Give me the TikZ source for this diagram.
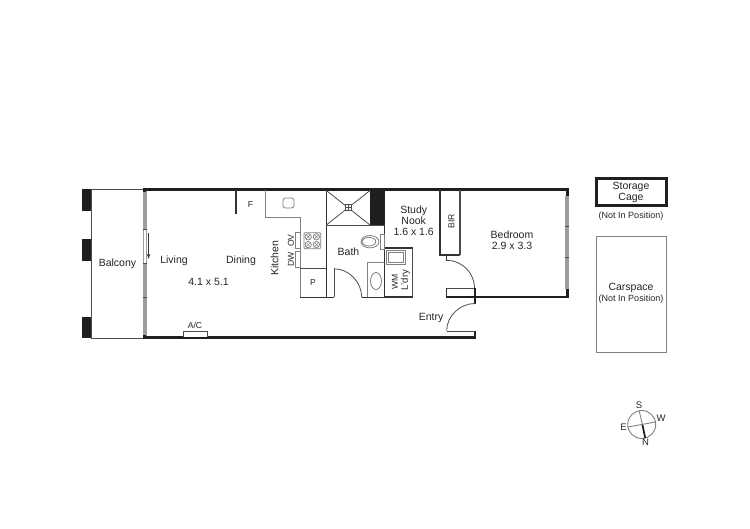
\documentclass[tikz,border=0pt]{standalone}
\usepackage{fontspec}
\setmainfont{Liberation Sans}
\tikzset{
  lbl/.style={inner sep=0pt,font=\fontsize{10.5}{11}\selectfont,text=black!85},
  lblsmall/.style={inner sep=0pt,font=\fontsize{8.6}{9}\selectfont,text=black!85},
  lblnote/.style={inner sep=0pt,font=\fontsize{9}{10}\selectfont,text=black!85},
  wall/.style={line width=3pt,draw=black!88},
  midwall/.style={line width=1.5pt,draw=black!80},
  thin/.style={line width=0.8pt,draw=black!70},
  fixture/.style={line width=0.8pt,draw=black!50},
  solidblock/.style={fill=black!88,draw=none},
  glass/.style={fill=black!38,draw=none}
}
\begin{document}
\begin{tikzpicture}[x=1pt,y=-1pt]
\useasboundingbox[fill=white] (0,0) rectangle (750,529);
% balcony
\fill[solidblock] (81.7,189.5) rectangle (91,211);
\fill[solidblock] (81.7,239) rectangle (91,261);
\fill[solidblock] (81.7,316.7) rectangle (91,338);
\draw[thin] (144,189.7) -- (91,189.7) -- (91,338) -- (144,338);
% living window
\fill[glass] (143.2,191) rectangle (147,336);
\fill[white] (143.9,229) rectangle (146.3,263);
\draw[thin] (143.2,229) -- (147,229) (143.2,263) -- (147,263) (143.2,297) -- (147,297);
\draw[line width=0.6pt,draw=black!80,-{latex}] (148.6,233) -- (148.6,259);
% outer walls
\draw[wall] (143,189.5) -- (568.5,189.5);
\draw[wall] (143,338) -- (476.3,338);
\draw[wall] (144.3,188.2) -- (144.3,192);
\draw[wall] (144.3,335) -- (144.3,339.3);
\draw[wall,line width=2.6pt] (475,331) -- (475,339);
% right window
\fill[glass] (565,196) rectangle (568.5,289);
\fill[solidblock] (565.5,189) rectangle (568.5,196);
\fill[solidblock] (565.5,289) rectangle (568.5,298);
\draw[thin] (565,226) -- (568.5,226) (565,257) -- (568.5,257);
% AC
\draw[thin,fill=white] (183,337) -- (183,331) -- (207,331) -- (207,337);
% fridge wall
\draw[midwall] (236,190) -- (236,214);
% kitchen
\draw[fixture,line width=1pt] (265.5,190) -- (265.5,217.5) -- (300,217.5) -- (300,297);
\draw[fixture,rounded corners=2.5pt] (283,198) rectangle (294,208);
\draw[fixture] (295,232.7) rectangle (300,248.2);
\draw[fixture] (295,251.7) rectangle (300,267.3);
\draw[fixture,rounded corners=1pt] (304,232.7) rectangle (320.7,248.7);
\foreach \cx/\cy in {308.2/236.8,316.4/236.8,308.2/244.6,316.4/244.6}{
  \draw[fixture,line width=0.7pt] (\cx,\cy) circle (3.2);
  \draw[fixture,line width=0.5pt] (\cx-2.2,\cy-2.2) -- (\cx+2.2,\cy+2.2) (\cx-2.2,\cy+2.2) -- (\cx+2.2,\cy-2.2);
}
% pantry
\draw[thin,line width=1pt] (300,268.3) -- (326,268.3);
\draw[midwall] (300,297.3) -- (334,297.3);
% bath walls
\draw[midwall] (326.3,190) -- (326.3,297.3);
% shower
\fill[solidblock] (370,190) rectangle (385,225);
\draw[thin] (326.3,225) -- (385,225);
\draw[thin] (326.3,190.5) -- (370,225) (370,190.5) -- (326.3,225);
\draw[thin,fill=white] (345,204) rectangle (351,210);
\draw[thin,line width=0.5pt] (345,207) -- (351,207) (348,204) -- (348,210);
% study side wall
\draw[midwall] (384.5,225) -- (384.5,297.3);
% toilet
\draw[fixture] (380,234) rectangle (384,249);
\draw[fixture] (370,241.7) ellipse (9 and 6.2);
\draw[fixture] (369,241.7) ellipse (6.8 and 4.3);
% vanity
\draw[fixture] (384,262.7) -- (367,262.7) -- (367,297);
\draw[fixture] (376,281) ellipse (5.5 and 8.5);
% bath door
\draw[thin,line width=1pt] (334,268) -- (334,297.3);
\draw[thin] (334,268.8) .. controls (349,268.8) and (361.7,282) .. (361.7,297.3);
\draw[midwall] (361.7,297.3) -- (385,297.3);
% laundry
\draw[midwall] (384.5,248) -- (412.7,248);
\draw[thin,line width=1pt] (412.7,248) -- (412.7,296.8);
\draw[midwall] (385,296.8) -- (413.2,296.8);
\draw[fixture] (386.7,250.5) rectangle (405,264);
\draw[fixture,line width=0.5pt] (388.5,252.3) rectangle (403.2,262.2);
% BIR
\draw[midwall,line width=1.8pt] (460,255.3) -- (440,255.3) -- (440,190);
\draw[thin,line width=1.1pt] (460,190) -- (460,255.3);
% bedroom door
\draw[midwall] (446.7,255) -- (446.7,261);
\draw[thin] (446.7,260.3) .. controls (462,260.3) and (474.6,273) .. (474.6,288.3);
\draw[thin] (446.7,288.3) -- (475,288.3);
\draw[midwall] (446.7,287.6) -- (446.7,297.2);
% entry
\draw[wall,line width=2.6pt] (475,288) -- (475,303.8);
\draw[wall,line width=2pt] (446,296.7) -- (568.5,296.7);
\draw[thin] (475,303.5) .. controls (460,303.5) and (446.7,316) .. (446.7,330.7);
\draw[thin] (446.7,331) -- (475,331);
% storage
\draw[line width=3pt,draw=black!88] (596,179) rectangle (666,205.5);
\draw[line width=0.8pt,draw=black!50] (596.3,236) rectangle (666,352);
% compass
\draw[fixture,line width=0.9pt] (641.7,424.5) circle (14);
\draw[fixture,line width=0.9pt] (628,427) -- (655.4,422);
\draw[fixture,line width=0.9pt] (639.2,411) -- (642.5,425);
\draw[line width=1.7pt,draw=black!90] (642.5,425) -- (645.2,438);
% labels
\node[lbl] (balcony) at (117.5,263.5) {Balcony};
\node[lbl] (living) at (174,261) {Living};
\node[lbl] (dining) at (241,261) {Dining};
\node[lbl] (lsize) at (208.5,281.5) {4.1 x 5.1};
\node[lblsmall] (ac) at (195,325) {A/C};
\node[lblsmall] (fridge) at (250.5,204.5) {F};
\node[lbl,rotate=90] (kitchen) at (274.5,258) {Kitchen};
\node[lblsmall,rotate=90] (ov) at (291,240.5) {OV};
\node[lblsmall,rotate=90] (dw) at (291,259.5) {DW};
\node[lblsmall] (pantry) at (313,283) {P};
\node[lbl] (bath) at (348.5,251.5) {Bath};
\node[lbl,align=center,font=\fontsize{10.5}{10.8}\selectfont] (study) at (413.7,220.5) {Study\\Nook\\1.6 x 1.6};
\node[lblsmall,rotate=90] (bir) at (451.5,221.5) {BIR};
\node[lblsmall,rotate=90] (wm) at (395,282) {WM};
\node[lbl,rotate=90,font=\fontsize{9.5}{10}\selectfont] (ldry) at (405.5,280) {L'dry};
\node[lbl,align=center,font=\fontsize{10.5}{10.8}\selectfont] (bedroom) at (512,240) {Bedroom\\2.9 x 3.3};
\node[lbl] (entry) at (431,318) {Entry};
\node[lbl,align=center,font=\fontsize{10.5}{11}\selectfont] (storage) at (631,192) {Storage\\Cage};
\node[lblnote] (notpos) at (631,216.5) {(Not In Position)};
\node[lbl,align=center] at (631,288) (carspace) {Carspace};
\node[lblnote] (notpos2) at (631,299.5) {(Not In Position)};
\node[lbl,font=\fontsize{9.5}{10}\selectfont] (s) at (639,405) {S};
\node[lbl,font=\fontsize{9.5}{10}\selectfont] (w) at (661,418) {W};
\node[lbl,font=\fontsize{9.5}{10}\selectfont] (e) at (623.5,427.5) {E};
\node[lbl,font=\fontsize{9.5}{10}\selectfont] (n) at (645.5,442.5) {N};
\end{tikzpicture}
\end{document}
